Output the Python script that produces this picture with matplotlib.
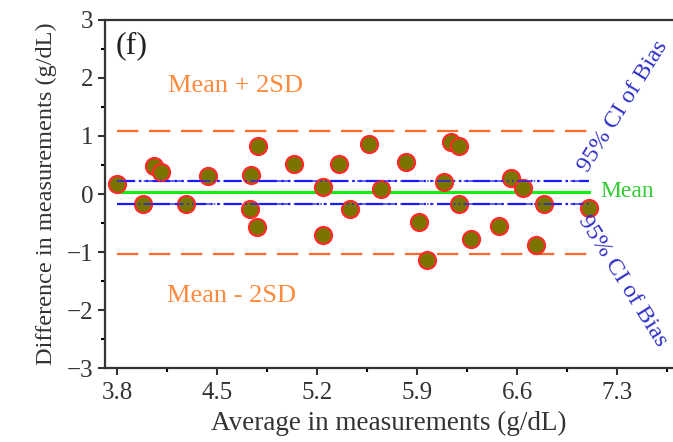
import numpy as np
import matplotlib
matplotlib.use('Agg')
import matplotlib.pyplot as plt

plt.rcParams['font.family'] = ['Liberation Serif', 'DejaVu Serif']
plt.rcParams['axes.unicode_minus'] = True

# Datos (promedio, diferencia)
promedio = [3.80, 3.98, 4.06, 4.11, 4.28, 4.44, 4.74, 4.79, 4.73, 4.78,
            5.04, 5.56, 5.24, 5.35, 5.24, 5.43, 5.65, 5.82, 5.91, 5.97,
            6.09, 6.14, 6.19, 6.19, 6.28, 6.47, 6.56, 6.64, 6.73, 6.79, 7.10]
diferencia = [0.18, -0.18, 0.48, 0.38, -0.18, 0.31, 0.33, 0.83, -0.26, -0.56,
              0.51, 0.87, 0.12, 0.51, -0.70, -0.26, 0.08, 0.56, -0.48, -1.14,
              0.21, 0.90, 0.83, -0.18, -0.78, -0.55, 0.27, 0.11, -0.87, -0.18, -0.24]

media = 0.03
limite_sup = 1.09
limite_inf = -1.03
ic_sup = 0.22
ic_inf = -0.17

xticks = [3.8, 4.5, 5.2, 5.9, 6.6, 7.3]
yticks = [-3, -2, -1, 0, 1, 2, 3]

fig = plt.figure(figsize=(6.73, 4.42), dpi=100)
ax = fig.add_axes([0.156, 0.167, 0.844, 0.788])

x0, x1 = min(promedio), max(promedio)
naranja = '#ff6a2a'
azul = '#1a1aff'
verde = '#11ee11'

ax.plot([x0, x1], [limite_sup, limite_sup], color=naranja, lw=1.6, dashes=(9.6, 4.8), zorder=2)
ax.plot([x0, x1], [limite_inf, limite_inf], color=naranja, lw=1.6, dashes=(9.6, 4.8), zorder=2)
ax.plot([x0, x1], [ic_sup, ic_sup], color=azul, lw=1.6, dashes=(8, 2, 1, 2, 1, 2), zorder=2)
ax.plot([x0, x1], [ic_inf, ic_inf], color=azul, lw=1.6, dashes=(8, 2, 1, 2, 1, 2), zorder=2)
ax.plot([x0, x1], [media, media], color=verde, lw=2.2, zorder=2)

ax.scatter(promedio, diferencia, s=150, facecolor='#7a7400', edgecolor='#ff2a2a',
           linewidth=1.6, zorder=3)
# segunda pasada para que las lineas se vean sobre los puntos, como en el original
ax.plot([x0, x1], [ic_sup, ic_sup], color=azul, lw=1.2, dashes=(8, 2, 1, 2, 1, 2), zorder=4, alpha=0.8)
ax.plot([x0, x1], [ic_inf, ic_inf], color=azul, lw=1.2, dashes=(8, 2, 1, 2, 1, 2), zorder=4, alpha=0.8)

ax.text(3.79, 2.55, '(f)', fontsize=23, color='#222222', va='center', ha='left')
ax.text(4.16, 1.86, 'Mean + 2SD', fontsize=19, color='#ff8a3d', va='center', ha='left')
ax.text(4.15, -1.76, 'Mean - 2SD', fontsize=19, color='#ff8a3d', va='center', ha='left')
ax.text(7.18, 0.05, 'Mean', fontsize=17, color='#33cc33', va='center', ha='left')
ax.text(7.34, 1.52, '95% CI of Bias', fontsize=17.5, color='#3030c8', rotation=58,
        va='center', ha='center', rotation_mode='anchor')
ax.text(7.34, -1.5, '95% CI of Bias', fontsize=17.5, color='#3030c8', rotation=-58,
        va='center', ha='center', rotation_mode='anchor')

ax.set_xlim(3.716, 7.69)
ax.set_ylim(-3, 3)
ax.set_xticks(xticks)
ax.set_xticks([3.8 + 0.35 + 0.7 * i for i in range(6)], minor=True)
ax.set_yticks(yticks)
ax.set_yticks(np.arange(-2.5, 3, 1.0), minor=True)
ax.tick_params(axis='both', which='major', direction='out', length=5, width=1.5,
               labelsize=18, colors='#333333')
ax.tick_params(axis='both', which='minor', direction='out', length=3, width=1.5)
ax.tick_params(axis='x', pad=5)

for lado in ['left', 'bottom', 'top']:
    ax.spines[lado].set_linewidth(1.6)
    ax.spines[lado].set_color('#333333')
ax.spines['right'].set_visible(False)

ax.set_xlabel('Average in measurements (g/dL)', fontsize=19.5, color='#333333', labelpad=5)
ax.set_ylabel('Difference in measurements (g/dL)', fontsize=17.5, color='#333333', labelpad=7)

fig.savefig('out.png', dpi=100)
